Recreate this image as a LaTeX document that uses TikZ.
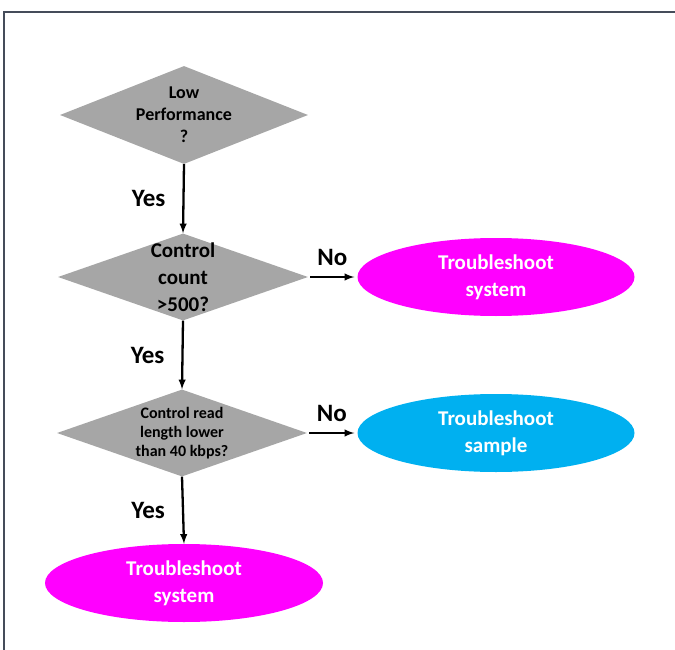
\documentclass[tikz,border=0pt]{standalone}
\usepackage{fontspec}
\setmainfont{Carlito}
\usepackage{xcolor}
\usetikzlibrary{arrows, shapes.geometric, calc}

\definecolor{decgray}{HTML}{A6A6A6}
\definecolor{sysmag}{HTML}{FF00FF}
\definecolor{smpcyan}{HTML}{00B0F0}
\definecolor{framegray}{HTML}{454C5A}

\tikzset{
  decision/.style={diamond, fill=decgray, inner sep=0pt, minimum width=250pt, minimum height=87pt},
  dectext/.style 2 args={align=center, font=\bfseries\fontsize{#1}{#2}\selectfont, inner sep=0pt},
  outcome/.style={ellipse, fill=#1, text=white, inner sep=0pt, minimum width=277pt, minimum height=78pt,
    align=center, font=\bfseries\fontsize{21}{27}\selectfont},
  flow/.style={-latex, line width=2.3pt},
  answer/.style={font=\bfseries\fontsize{25}{28}\selectfont, inner sep=0pt}
}

\begin{document}
\begin{tikzpicture}[x=1pt, y=-1pt]
    \useasboundingbox (0,0) rectangle (675,650);
    % frame
    \draw[framegray, line width=1.6pt] (4,650) -- (4,12) -- (675,12);

    % decisions
    \node[decision, minimum width=248pt, minimum height=98pt] (q_1) at (184,115) {};
    \node[dectext={18}{22}] (t_1) at (q_1.center) {Low\\Performance\\?};
    \node[decision] (q_2) at (183,277) {};
    \node[dectext={21}{27}] (t_2) at (q_2.center) {Control\\count\\>500?};
    \node[decision] (q_3) at (182,433) {};
    \node[dectext={16}{19}] (t_3) at (q_3.center) {Control read\\length lower\\than 40 kbps?};

    % outcomes
    \node[outcome=sysmag] (o_1) at (496,277) {Troubleshoot\\system};
    \node[outcome=smpcyan] (o_2) at (496,433) {Troubleshoot\\sample};
    \node[outcome=sysmag, minimum width=278pt] (o_3) at (184,583) {Troubleshoot\\system};

    % connectors
    \draw[flow] (q_1.south) -- node[answer, left=17pt] (y_1) {Yes} (q_2.north);
    \draw[flow] (q_2.south) -- node[answer, left=17pt] (y_2) {Yes} (q_3.north);
    \draw[flow] (q_3.south) -- node[answer, left=17pt] (y_3) {Yes} (o_3.north);
    \draw[flow] ($(q_2.east)+(2,0)$) -- node[answer, above=10pt] (n_1) {No} ($(o_1.west)+(-3,0)$);
    \draw[flow] ($(q_3.east)+(2,0)$) -- node[answer, above=10pt] (n_2) {No} ($(o_2.west)+(-3,0)$);
\end{tikzpicture}
\end{document}
